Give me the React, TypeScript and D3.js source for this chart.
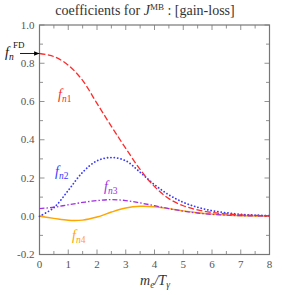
import React from 'react';
import * as d3 from 'd3';

// values
const xs = [0, 0.5, 1, 1.5, 2, 2.5, 3, 3.5, 4, 4.5, 5, 5.5, 6, 6.5, 7, 7.5, 8];
const fn1 = [0.851, 0.835, 0.79, 0.71, 0.59, 0.47, 0.355, 0.245, 0.155, 0.092, 0.055, 0.033, 0.02, 0.012, 0.007, 0.004, 0.002];
const fn2 = [0.0, 0.045, 0.135, 0.23, 0.29, 0.307, 0.29, 0.23, 0.165, 0.112, 0.073, 0.047, 0.029, 0.018, 0.01, 0.006, 0.003];
const fn3 = [0.04, 0.047, 0.06, 0.072, 0.082, 0.087, 0.082, 0.07, 0.055, 0.04, 0.027, 0.017, 0.01, 0.006, 0.003, 0.002, 0.001];
const fn4 = [0.0, -0.011, -0.021, -0.02, -0.004, 0.022, 0.043, 0.052, 0.05, 0.04, 0.028, 0.018, 0.011, 0.006, 0.003, 0.001, 0.0];
const xTicks = [0, 1, 2, 3, 4, 5, 6, 7, 8];
const yTicks = [-0.2, 0.0, 0.2, 0.4, 0.6, 0.8, 1.0];

const series = [
  { name: '1', values: fn1, color: '#ff2a2a', dash: '6,2.5', cap: 'butt', width: 1.3, label: [58, 99] },
  { name: '2', values: fn2, color: '#3a3aff', dash: '0.1,3.3', cap: 'round', width: 1.8, label: [55, 176] },
  { name: '3', values: fn3, color: '#a030e0', dash: '5,2,1.5,2', cap: 'butt', width: 1.3, label: [104, 191] },
  { name: '4', values: fn4, color: '#ffa500', dash: '', cap: 'butt', width: 1.4, label: [72, 240] },
];

export default function App() {
  const W = 283, H = 295;
  const left = 39.5, right = 269.5, top = 25, bottom = 254.5;
  const x = d3.scaleLinear().domain([0, 8]).range([left, right]);
  const y = d3.scaleLinear().domain([-0.2, 1.0]).range([bottom, top]);
  const font = '"Liberation Serif", "DejaVu Serif", serif';
  const axisColor = '#777';
  const textColor = '#555';

  const line = (vals: number[]) =>
    d3.line<number>()
      .x((_, i) => x(xs[i]))
      .y(d => y(d))
      .curve(d3.curveCatmullRom)(vals) || '';

  const xMinor = d3.range(0, 8.01, 0.5);
  const yMinor = d3.range(-0.2, 1.001, 0.1);

  return (
    <svg width={W} height={H} style={{ position: 'absolute', left: 0, top: 0 }}>
      <defs>
        <marker id="arr" viewBox="0 0 10 10" refX="10" refY="5" markerWidth="6" markerHeight="6" orient="auto">
          <path d="M0,1 L10,5 L0,9 z" fill="#000" />
        </marker>
      </defs>
      <text x={145} y={15} textAnchor="middle" fontFamily={font} fontSize={14} fill="#333">
        coefficients for <tspan fontStyle="italic">J</tspan>
        <tspan fontSize={9} dy={-5}>MB</tspan>
        <tspan dy={5}> : [gain-loss]</tspan>
      </text>

      {/* ticks */}
      {xMinor.map((t, i) => {
        const len = Math.abs(t - Math.round(t)) < 1e-6 ? 5 : 3.5;
        return (
          <g key={'xt' + i} stroke={axisColor} strokeWidth={0.8}>
            <line x1={x(t)} x2={x(t)} y1={bottom} y2={bottom - len} />
            <line x1={x(t)} x2={x(t)} y1={top} y2={top + len} />
          </g>
        );
      })}
      {yMinor.map((t, i) => {
        const len = Math.abs(t * 5 - Math.round(t * 5)) < 1e-6 ? 5 : 3.5;
        return (
          <g key={'yt' + i} stroke={axisColor} strokeWidth={0.8}>
            <line x1={left} x2={left + len} y1={y(t)} y2={y(t)} />
            <line x1={right} x2={right - len} y1={y(t)} y2={y(t)} />
          </g>
        );
      })}
      <rect x={left} y={top} width={right - left} height={bottom - top} fill="none" stroke={axisColor} strokeWidth={1.2} />

      {xTicks.map(t => (
        <text key={'xl' + t} x={x(t)} y={bottom + 13} textAnchor="middle" fontFamily={font} fontSize={11} fill={textColor}>{t}</text>
      ))}
      {yTicks.map(t => (
        <text key={'yl' + t} x={left - 5} y={y(t) + 3.5} textAnchor="end" fontFamily={font} fontSize={11} fill={textColor}>{t.toFixed(1)}</text>
      ))}

      {series.slice().reverse().map(s => (
        <path key={s.name} d={line(s.values)} fill="none" stroke={s.color} strokeWidth={s.width}
          strokeLinecap={s.cap as any} strokeDasharray={s.dash || undefined} />
      ))}

      {series.map(s => (
        <text key={'lab' + s.name} x={s.label[0]} y={s.label[1]} fontFamily={font} fontSize={14} fill={s.color} fontStyle="italic">
          f<tspan fontSize={9.5} dy={2.5}>n</tspan><tspan fontSize={9.5} fontStyle="normal">{s.name}</tspan>
        </text>
      ))}

      {/* f_n^FD arrow */}
      <line x1={20} x2={left} y1={y(fn1[0])} y2={y(fn1[0])} stroke="#000" strokeWidth={0.9} markerEnd="url(#arr)" />
      <text x={5} y={57} fontFamily={font} fontSize={14} fill="#111" fontStyle="italic">
        f<tspan fontSize={9.5} dy={3}>n</tspan>
      </text>
      <text x={13} y={48} fontFamily={font} fontSize={9} fill="#111">FD</text>

      <text x={155} y={285} textAnchor="middle" fontFamily={font} fontSize={14} fill="#333" fontStyle="italic">
        m<tspan fontSize={9.5} dy={2.5}>e</tspan><tspan dy={-2.5}>/T</tspan><tspan fontSize={9.5} dy={2.5}>γ</tspan>
      </text>
    </svg>
  );
}
